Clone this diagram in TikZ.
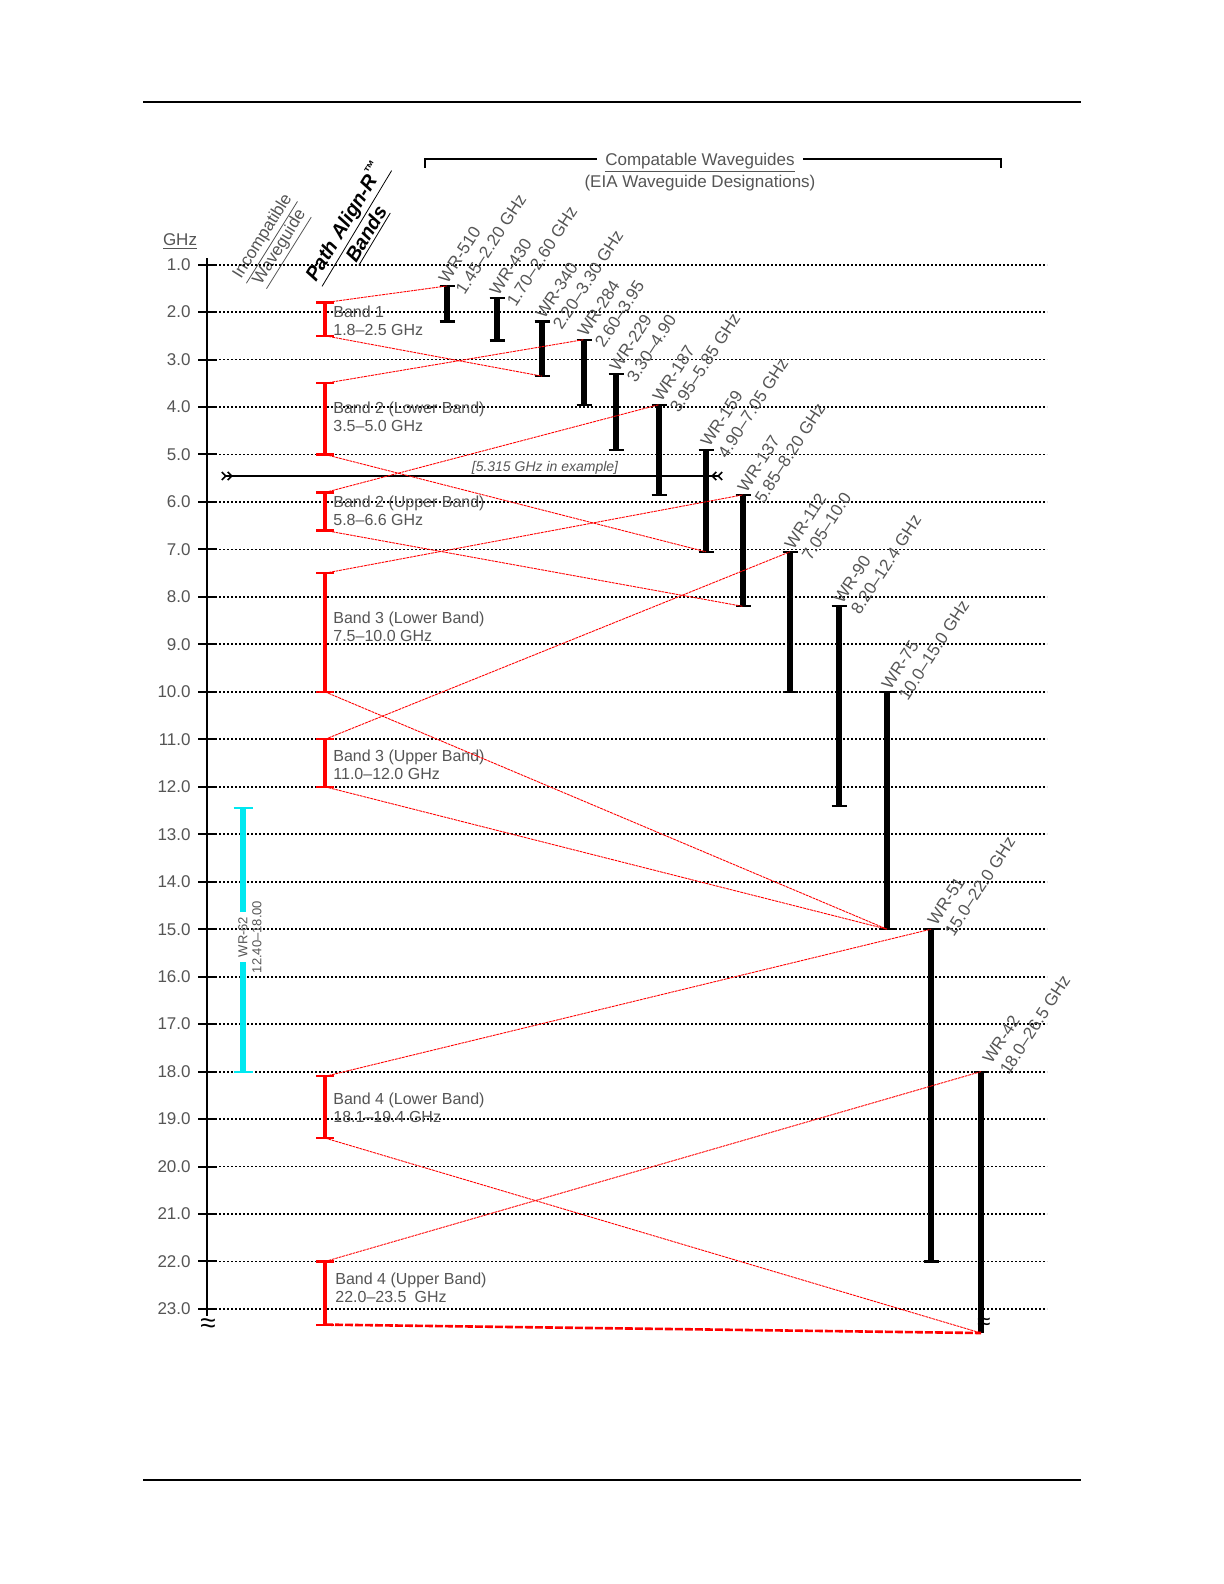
\documentclass[tikz,border=0pt]{standalone}
\usepackage{fontspec}
\setmainfont{Liberation Sans}
\usetikzlibrary{arrows.meta}
\definecolor{txt}{HTML}{555555}
\definecolor{cyanbar}{HTML}{00E8F0}
\newcommand{\wgbar}[6]{%
  \coordinate (#1t) at (#2,{fy(#3)});
  \coordinate (#1b) at (#2,{fy(#4)});
  \draw[#5] (#1t) -- (#1b);
  \draw[#5,line width=1.1pt] ([xshift=-#6]#1t) -- ([xshift=#6]#1t);
  \draw[#5,line width=1.1pt] ([xshift=-#6]#1b) -- ([xshift=#6]#1b);
}
\begin{document}
\begin{tikzpicture}[x=0.5pt,y=-0.5pt,
  declare function={fy(\f)=264.6+(\f-1)*47.47;},
  gridline/.style={line width=0.9pt, dash pattern=on 0.8pt off 1.2pt},
  blackbar/.style={line width=2.9pt, black},
  redbar/.style={line width=2pt, red},
  cyanline/.style={line width=2.6pt, cyanbar},
  conn/.style={red, line width=0.45pt, dash pattern=on 1.4pt off 0.4pt},
  wglab/.style={rotate=57, anchor=south west, inner sep=0pt, align=left,
    font=\fontsize{8.5}{10.2}\selectfont, text=txt},
  bandlab/.style={anchor=west, inner sep=0pt, align=left,
    font=\fontsize{8}{9}\selectfont, text=txt},
  axlab/.style={anchor=east, inner sep=0pt, font=\fontsize{8.5}{10}\selectfont, text=txt},
  exarrow/.style={line width=0.8pt,
    {Straight Barb[reversed,length=2pt,width=4pt] Straight Barb[reversed,length=2pt,width=4pt]}-{Straight Barb[reversed,length=2pt,width=4pt] Straight Barb[reversed,length=2pt,width=4pt]}}
]
\useasboundingbox (0,0) rectangle (1224,1584);
\fill[white] (0,0) rectangle (1224,1584);

% page rules
\coordinate (rtl) at (143,102); \coordinate (rtr) at (1081,102);
\coordinate (rbl) at (143,1480); \coordinate (rbr) at (1081,1480);
\draw[line width=1pt] (rtl) -- (rtr);
\draw[line width=1pt] (rbl) -- (rbr);

% header
\node[anchor=base, inner sep=1pt, font=\fontsize{8.5}{10}\selectfont, text=txt] (cw) at (700,165) {\underline{Compatable Waveguides}};
\node[anchor=base, inner sep=0pt, font=\fontsize{8.5}{10}\selectfont, text=txt] (eia) at (700,187) {(EIA Waveguide Designations)};
\coordinate (brl) at (425,168); \coordinate (brr) at (1001,168);
\draw[line width=1pt] (brl) |- ([xshift=-3pt]cw.west |- 0,158.5);
\draw[line width=1pt] (brr) |- ([xshift=3pt]cw.east |- 0,158.5);

% column headers
\node[anchor=base, inner sep=0pt, font=\fontsize{8.5}{10}\selectfont, text=txt] (ghz) at (180,245) {\underline{GHz}};
\node[rotate=58, inner sep=0pt, align=center, font=\fontsize{8.5}{10}\selectfont, text=txt] (incomp) at (273,243) {\underline{Incompatible}\\\underline{Waveguide}};
\node[rotate=59, inner sep=0pt, align=center, font=\fontsize{10}{11}\selectfont\bfseries\itshape] (pab) at (356,228) {\underline{Path Align-R\textsuperscript{™}}\\\underline{Bands}};

% grid and axis
\foreach \i in {1,...,23}{
  \coordinate (gl\i) at (219,{fy(\i)});
  \coordinate (gr\i) at (1047,{fy(\i)});
  \draw[gridline] (gl\i) -- (gr\i);
  \draw[line width=1pt] (198,{fy(\i)}) -- (217,{fy(\i)});
  \node[axlab] (ax\i) at (191,{fy(\i)}) {\i.0};
}
\coordinate (axt) at (207,258); \coordinate (axb) at (207,1316);
\draw[line width=0.8pt] (axt) -- (axb);
\node[inner sep=0pt, font=\fontsize{14}{14}\selectfont] (brk1) at (208,1326) {≈};

% example line
\coordinate (exl) at (221,476); \coordinate (exr) at (723,476);
\draw[exarrow] (exl) -- (exr);
\node[inner sep=0pt, font=\fontsize{7}{8}\selectfont\itshape, text=txt] (exlab) at (545,468) {[5.315 GHz in example]};

% incompatible waveguide WR-62
\coordinate (c62t) at (243,{fy(12.45)});
\coordinate (c62b) at (243,{fy(18.0)});
\coordinate (c62g1) at (243,912);
\coordinate (c62g2) at (243,962);
\draw[cyanline] (c62t) -- (c62g1);
\draw[cyanline] (c62g2) -- (c62b);
\draw[cyanbar,line width=1.1pt] ([xshift=-4.75pt]c62t) -- ([xshift=4.75pt]c62t);
\draw[cyanbar,line width=1.1pt] ([xshift=-4.75pt]c62b) -- ([xshift=4.75pt]c62b);
\node[rotate=90, inner sep=0pt, align=center, font=\fontsize{6.5}{7}\selectfont, text=txt] (l62) at (250,937) {WR-62\\12.40–18.00};

% Path Align-R bands
\wgbar{ba}{325}{1.8}{2.5}{redbar}{4.5pt}
\wgbar{bb}{325}{3.5}{5.0}{redbar}{4.5pt}
\wgbar{bc}{325}{5.8}{6.6}{redbar}{4.5pt}
\wgbar{bd}{325}{7.5}{10.0}{redbar}{4.5pt}
\wgbar{be}{325}{11.0}{12.0}{redbar}{4.5pt}
\wgbar{bf}{325}{18.1}{19.4}{redbar}{4.5pt}
\wgbar{bg}{325}{22.0}{23.33}{redbar}{4.5pt}

\node[bandlab] (la) at (333,321) {Band 1\\1.8–2.5 GHz};
\node[bandlab] (lb) at (333,417) {Band 2 (Lower Band)\\3.5–5.0 GHz};
\node[bandlab] (lc) at (333,511) {Band 2 (Upper Band)\\5.8–6.6 GHz};
\node[bandlab] (ld) at (333,627) {Band 3 (Lower Band)\\7.5–10.0 GHz};
\node[bandlab] (le) at (333,765) {Band 3 (Upper Band)\\11.0–12.0 GHz};
\node[bandlab] (lf) at (333,1108) {Band 4 (Lower Band)\\18.1–19.4 GHz};
\node[bandlab] (lg) at (335,1288) {Band 4 (Upper Band)\\22.0–23.5\enspace GHz};

% compatible waveguides
\wgbar{wa}{447}{1.45}{2.20}{blackbar}{3.75pt}
\wgbar{wb}{497}{1.70}{2.60}{blackbar}{3.75pt}
\wgbar{wc}{542}{2.20}{3.35}{blackbar}{3.75pt}
\wgbar{wd}{584}{2.58}{3.95}{blackbar}{3.75pt}
\wgbar{we}{616}{3.30}{4.90}{blackbar}{3.75pt}
\wgbar{wf}{659}{3.95}{5.85}{blackbar}{3.75pt}
\wgbar{wg}{706}{4.90}{7.05}{blackbar}{3.75pt}
\wgbar{wh}{743}{5.85}{8.20}{blackbar}{3.75pt}
\wgbar{wi}{790}{7.05}{10.0}{blackbar}{3.75pt}
\wgbar{wj}{839}{8.20}{12.4}{blackbar}{3.75pt}
\wgbar{wk}{887}{10.0}{15.0}{blackbar}{3.75pt}
\wgbar{wl}{931}{15.0}{22.0}{blackbar}{3.75pt}
\coordinate (wmt) at (981,{fy(18.0)});
\coordinate (wmb) at (981,1333);
\draw[blackbar] (wmt) -- (wmb);
\draw[line width=1.1pt] ([xshift=-3.75pt]wmt) -- ([xshift=3.75pt]wmt);
\node[inner sep=0pt, font=\fontsize{12}{12}\selectfont] (brk2) at (984,1324) {≈};

\node[wglab] (ta) at ([shift={(18,10)}]wat) {WR-510\\1.45–2.20 GHz};
\node[wglab] (tb) at ([shift={(19,10)}]wbt) {WR-430\\1.70–2.60 GHz};
\node[wglab] (tc) at ([shift={(20,10)}]wct) {WR-340\\2.20–3.30 GHz};
\node[wglab] (td) at ([shift={(20,10)}]wdt) {WR-284\\2.60–3.95};
\node[wglab] (te) at ([shift={(20,10)}]wet) {WR-229\\3.30–4.90};
\node[wglab] (tf) at ([shift={(20,10)}]wft) {WR-187\\3.95–5.85 GHz};
\node[wglab] (tg) at ([shift={(21,10)}]wgt) {WR-159\\4.90–7.05 GHz};
\node[wglab] (th) at ([shift={(21,10)}]wht) {WR-137\\5.85–8.20 GHz};
\node[wglab] (ti) at ([shift={(21,10)}]wit) {WR-112\\7.05–10.0};
\node[wglab] (tj) at ([shift={(21,10)}]wjt) {WR-90\\8.20–12.4 GHz};
\node[wglab] (tk) at ([shift={(21,10)}]wkt) {WR-75\\10.0–15.0 GHz};
\node[wglab] (tl) at ([shift={(23,9)}]wlt) {WR-51\\15.0–22.0 GHz};
\node[wglab] (tm) at ([shift={(28,5)}]wmt) {WR-42\\18.0–26.5 GHz};

% connectors
\draw[conn] (bat) -- (wat);
\draw[conn] (bab) -- (wcb);
\draw[conn] (bbt) -- (wdt);
\draw[conn] (bbb) -- (wgb);
\draw[conn] (bct) -- (wft);
\draw[conn] (bcb) -- (whb);
\draw[conn] (bdt) -- (wht);
\draw[conn] (bdb) -- (wkb);
\draw[conn] (bet) -- (wit);
\draw[conn] (beb) -- (wkb);
\draw[conn] (bft) -- (wlt);
\draw[conn] (bfb) -- (wmb);
\draw[conn] (bgt) -- (wmt);
\draw[red, line width=1.3pt, dash pattern=on 4pt off 1pt] (bgb) -- (wmb);
\end{tikzpicture}
\end{document}
